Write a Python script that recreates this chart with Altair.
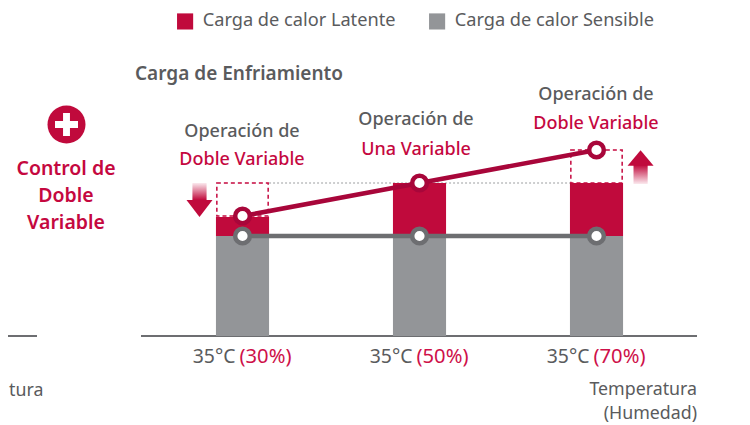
import altair as alt
import pandas as pd

FONT = "Noto Sans"
RED = "#C00A3C"
LINE_RED = "#A8063A"
TEXT_RED = "#C5083F"
TICK_RED = "#CE1049"
GREY_BAR = "#939598"
GREY_LINE = "#6D6E71"
GREY_TEXT = "#5A5B5D"

slots = [1, 2, 3]
temps = ["35°C", "35°C", "35°C"]
humidity = ["(30%)", "(50%)", "(70%)"]
sensible = [100, 100, 100]
latent_top = [119, 153, 153]
line_latent = [120, 153, 186]
line_sensible = [100, 100, 100]
box_slots = [1, 3]
box_low = [120, 153]
box_high = [153, 186]
ref_level = [153, 153]
ref_from = [1.15, 2.85]
series = ["Carga de calor Latente", "Carga de calor Sensible"]

W, H = 734, 417
x_scale = alt.Scale(domain=[-0.3249, 3.8220], range=[0, W], nice=False, zero=False)
y_scale = alt.Scale(domain=[-89, 328], range=[H, 0], nice=False, zero=False)
X = lambda f: alt.X(f, type="quantitative", scale=x_scale, axis=None)
Y = lambda f: alt.Y(f, type="quantitative", scale=y_scale, axis=None)

bars = pd.DataFrame(
    [{"slot": s, "lo": 100, "hi": t, "serie": series[0]} for s, t in zip(slots, latent_top)]
    + [{"slot": s, "lo": 0, "hi": v, "serie": series[1]} for s, v in zip(slots, sensible)]
)
bars["x0"] = bars["slot"] - 0.15
bars["x1"] = bars["slot"] + 0.15

bar_layer = alt.Chart(bars).mark_rect().encode(
    x=X("x0"), x2="x1", y=Y("lo"), y2="hi",
    color=alt.Color(
        "serie:N",
        scale=alt.Scale(domain=series, range=[RED, GREY_BAR]),
        legend=alt.Legend(
            title=None, orient="none", legendX=168, legendY=4, direction="horizontal",
            symbolType="square", symbolSize=260, symbolStrokeWidth=0, labelFont=FONT,
            labelFontSize=18.2, labelColor=GREY_TEXT, labelOffset=8.5, columnPadding=32,
            labelLimit=300,
        ),
    ),
)

boxes = pd.DataFrame({"slot": box_slots, "lo": box_low, "hi": box_high})
boxes["x0"] = boxes["slot"] - 0.145
boxes["x1"] = boxes["slot"] + 0.145
box_layer = alt.Chart(boxes).mark_rect(
    fill=None, stroke=TEXT_RED, strokeWidth=1.5, strokeDash=[4, 3]
).encode(x=X("x0"), x2="x1", y=Y("lo"), y2="hi")

ref_df = pd.DataFrame({"x": ref_from, "y": ref_level})
ref_layer = alt.Chart(ref_df).mark_line(color="#BDBEC0", strokeWidth=1.5, strokeDash=[2, 2]).encode(
    x=X("x"), y=Y("y")
)


def series_line(vals, color):
    df = pd.DataFrame({"x": slots, "y": vals})
    ln = alt.Chart(df).mark_line(color=color, strokeWidth=4.5).encode(x=X("x"), y=Y("y"))
    pt = alt.Chart(df).mark_point(
        shape="circle", filled=True, fill="white", stroke=color, strokeWidth=4.5, size=215, opacity=1
    ).encode(x=X("x"), y=Y("y"))
    return ln + pt


base = pd.DataFrame({"x": [0.4265, -0.3249], "x2": [3.5678, -0.161], "y": [0, 0]})
base_layer = alt.Chart(base).mark_rule(color=GREY_LINE, strokeWidth=2).encode(x=X("x"), x2="x2", y=Y("y"))


def fade(up):
    return alt.LinearGradient(
        gradient="linear", x1=0, x2=0, y1=0, y2=1,
        stops=[
            alt.GradientStop(color=RED if up else "#FBE9EE", offset=0),
            alt.GradientStop(color="#FBE9EE" if up else RED, offset=1),
        ],
    )


def arrow(slot_pos, tail, neck, tip, up):
    stem = pd.DataFrame({"x0": [slot_pos - 0.04], "x1": [slot_pos + 0.04], "a": [tail], "b": [neck]})
    head = pd.DataFrame({"x": [slot_pos], "y": [(neck + tip) / 2]})
    path = "M-1,0.6L1,0.6L0,-0.6Z" if up else "M-1,-0.65L1,-0.65L0,0.65Z"
    return alt.Chart(stem).mark_rect(color=fade(up)).encode(x=X("x0"), x2="x1", y=Y("a"), y2="b") + alt.Chart(
        head
    ).mark_point(shape=path, filled=True, fill=RED, stroke=None, size=676, opacity=1).encode(x=X("x"), y=Y("y"))


def note(label, px, py, color=GREY_TEXT, size=18, weight=500, align="center"):
    return alt.Chart(alt.Data(values=[{"t": label}])).mark_text(
        font=FONT, fontSize=size, fontWeight=weight, color=color, align=align, baseline="middle"
    ).encode(x=alt.value(px - 8), y=alt.value(py - 8), text="t:N")


ticks = pd.DataFrame({"x": slots, "t": temps, "h": humidity, "y": [-21, -21, -21]})
tick_a = alt.Chart(ticks).mark_text(
    font=FONT, fontSize=19.4, color=GREY_TEXT, align="right", baseline="middle", dx=-7
).encode(x=X("x"), y=Y("y"), text="t:N")
tick_b = alt.Chart(ticks).mark_text(
    font=FONT, fontSize=20.2, color=TICK_RED, align="left", baseline="middle", dx=-3
).encode(x=X("x"), y=Y("y"), text="h:N")

plus_pos = pd.DataFrame({"x": [-0.3249 + 58.5 / 177], "y": [328 - 116.5]})
plus_bg = alt.Chart(plus_pos).mark_point(
    shape="circle", filled=True, fill=RED, stroke=None, size=1444, opacity=1
).encode(x=X("x"), y=Y("y"))
plus_fg = alt.Chart(plus_pos).mark_point(
    shape="M-1,-.3H-.3V-1H.3V-.3H1V.3H.3V1H-.3V.3H-1Z",
    filled=True, fill="white", stroke=None, size=529, opacity=1,
).encode(x=X("x"), y=Y("y"))

chart = alt.layer(
    base_layer,
    box_layer,
    ref_layer,
    bar_layer,
    series_line(line_sensible, GREY_LINE),
    series_line(line_latent, LINE_RED),
    arrow(-0.243 + 1, 153, 136, 119, False),
    arrow(0.249 + 3, 152, 171, 185, True),
    tick_a,
    tick_b,
    plus_bg,
    plus_fg,
    note("Carga de Enfriamiento", 135, 74, size=19, weight=600, align="left"),
    note("Operación de", 242, 132),
    note("Doble Variable", 242, 160, color=TEXT_RED),
    note("Operación de", 416, 120),
    note("Una Variable", 416, 150, color=TEXT_RED),
    note("Operación de", 596, 95),
    note("Doble Variable", 596, 124, color=TEXT_RED),
    note("Control de", 66, 169, color=TEXT_RED, size=19.5, weight=600),
    note("Doble", 66, 196, color=TEXT_RED, size=19.5, weight=600),
    note("Variable", 66, 223, color=TEXT_RED, size=19.5, weight=600),
    note("tura", 9, 391, size=17.8, weight=400, align="left"),
    note("Temperatura", 697, 390, size=17.8, weight=400, align="right"),
    note("(Humedad)", 697, 414, size=17.8, weight=400, align="right"),
).properties(
    width=W, height=H, padding=0, background="white",
    autosize=alt.AutoSizeParams(type="none"),
).configure_view(stroke=None)

chart.save("out.html", embed_options={"renderer": "svg", "actions": False})
